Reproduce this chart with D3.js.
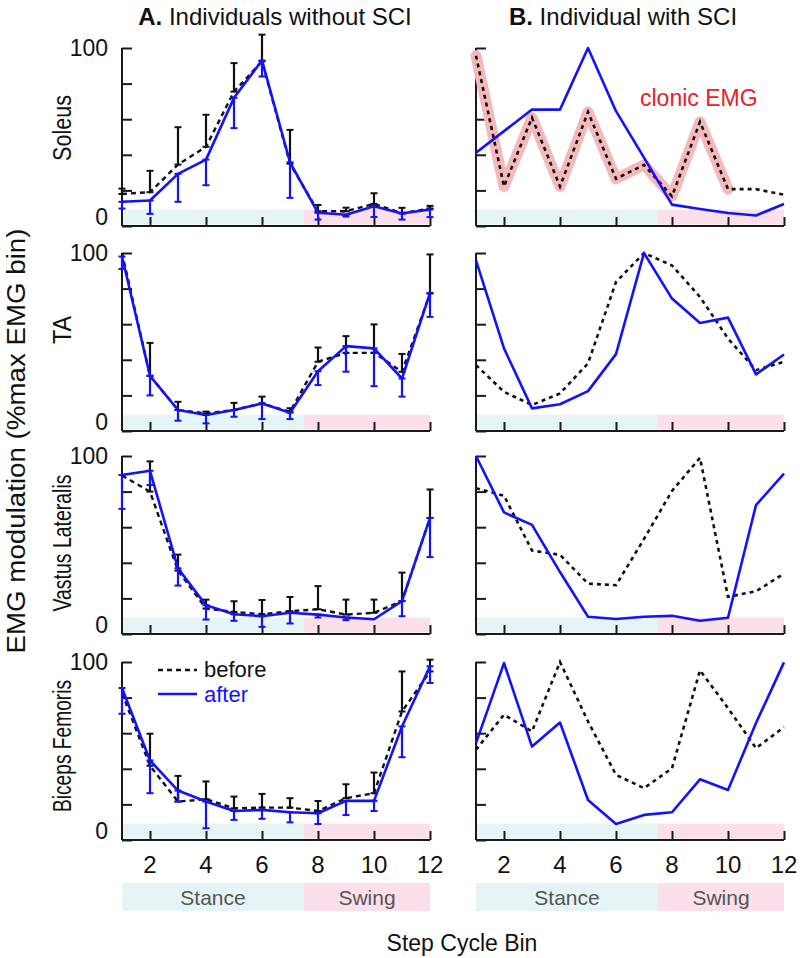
<!DOCTYPE html>
<html><head><meta charset="utf-8">
<script src="https://cdn.jsdelivr.net/npm/d3@7"></script>
<style>body{margin:0;background:#fff} svg{display:block} text{font-family:"Liberation Sans",Arial,Helvetica,sans-serif}</style>
</head><body><svg id="c" width="800" height="958"></svg>
<script>
// ---------- data ----------
const bins = [1,2,3,4,5,6,7,8,9,10,11,12];
const xTickValues = [2,4,6,8,10,12];
const yTickValues = [0,20,40,60,80,100];
const yTickLabels = ["0","100"];
const muscles = ["Soleus","TA","Vastus Lateralis","Biceps Femoris"];
const phaseNames = ["Stance","Swing"];
const phaseBounds = [1, 7.5, 12];
const titles = [["A.", " Individuals without SCI"], ["B.", " Individual with SCI"]];
const legendLabels = ["before","after"];
const clonicLabel = "clonic EMG";
const clonicBins = [1,2,3,4,5,6,7,8,9,10];

// A: individuals without SCI (mean, SD up for before, SD down for after)
const soleusA_before   = [18, 19, 34.5, 44.5, 75.5, 92.5, 35, 8.3, 8.3, 12.4, 7.2, 9.8];
const soleusA_beforeSD = [3, 12, 21, 18, 16, 15, 19, 3.5, 2, 6, 3, 1.5];
const soleusA_after    = [13.6, 14.3, 29.3, 37.3, 72, 93, 35.8, 7.4, 6.3, 11.1, 7, 9.3];
const soleusA_afterSD  = [3.8, 7.5, 15.7, 14.4, 17, 9, 20, 3.8, 1, 6, 3.4, 4.3];

const taA_before   = [100, 31, 11.8, 9.9, 11.8, 15.5, 10.8, 38.9, 43.9, 43.9, 33.3, 77.2];
const taA_beforeSD = [0, 18.5, 4.6, 1, 4, 3.8, 2, 8, 9.4, 16, 10, 22];
const taA_after    = [98, 31, 11.8, 9, 11.8, 15.5, 10.3, 33.6, 47.7, 46.4, 29.5, 77.6];
const taA_afterSD  = [7, 11, 6, 4.7, 3.8, 8.8, 3.6, 7.8, 14.4, 21.2, 10.2, 13.5];

const vlA_before   = [89, 80, 35.6, 14.3, 12.4, 11.1, 12.8, 13.9, 10.9, 11.9, 18.5, 65.2];
const vlA_beforeSD = [0, 17, 9, 5, 6, 8, 8, 13, 8.4, 7.4, 16, 16];
const vlA_after    = [89.3, 91.7, 36.9, 16.1, 11.1, 10, 11.9, 10.9, 9.3, 8.3, 18.5, 65.2];
const vlA_afterSD  = [19, 8, 9.7, 8, 3.7, 6, 6, 1.6, 1.5, 0, 8.5, 22];

const bfA_before   = [82.6, 41.7, 21.6, 22.9, 17.8, 18.2, 18.2, 16.3, 23.5, 26.3, 72.2, 94.7];
const bfA_beforeSD = [0, 18, 14.4, 10, 6.6, 7.7, 5.3, 5.6, 7.8, 11.6, 22.5, 6.6];
const bfA_after    = [85.4, 44.7, 27.8, 21.6, 16.3, 16.9, 15.6, 15, 22, 22, 63.8, 97.6];
const bfA_afterSD  = [14.5, 18.4, 6.2, 15, 5, 5, 5.7, 6, 8, 5.7, 17.3, 9.4];

// B: individual with SCI
const soleusB_before = [95.7, 22.2, 60.9, 22.2, 64.1, 26.5, 34.3, 16.7, 58.5, 20.7, 20.7, 17.6];
const soleusB_after  = [41.2, 53.3, 65.4, 65.4, 100, 64.5, 38.4, 12, 9.6, 7.3, 5.9, 12.4];
const taB_before = [37, 22, 14.6, 21.1, 38, 83.7, 100, 93, 75.3, 52, 34.2, 38.9];
const taB_after  = [95.9, 46.4, 12.7, 15, 22.4, 43.2, 100, 74.4, 60.7, 63.7, 31.8, 43];
const vlB_before = [81.9, 77.7, 46.9, 44.5, 28.3, 27.4, 53.4, 80.4, 99, 20.9, 24, 33.9];
const vlB_after  = [100, 68.3, 61.3, 34.8, 9.7, 8.4, 9.7, 10.2, 7.4, 9.1, 72.4, 90.1];
const bfB_before = [50.7, 70.4, 61, 100, 66.6, 36.6, 29.1, 40.3, 95.3, 74.1, 51.6, 63.4];
const bfB_after  = [54.4, 99.4, 52.5, 66, 22.5, 9, 14.1, 15.6, 34.1, 28.1, 65.7, 99.8];

const rowsA = [
  [soleusA_before, soleusA_beforeSD, soleusA_after, soleusA_afterSD],
  [taA_before, taA_beforeSD, taA_after, taA_afterSD],
  [vlA_before, vlA_beforeSD, vlA_after, vlA_afterSD],
  [bfA_before, bfA_beforeSD, bfA_after, bfA_afterSD]
];
const rowsB = [
  [soleusB_before, soleusB_after],
  [taB_before, taB_after],
  [vlB_before, vlB_after],
  [bfB_before, bfB_after]
];

// ---------- layout ----------
const colRanges = [[122, 430], [476, 784]];
const rowTops = [48, 253, 456, 662];
const rowH = 178;
const blue = "#1212ff";
const axisColor = "#1a1a1a";
const stanceColor = "#e5f4f5";
const swingColor = "#fbe0ec";
const phaseColors = [stanceColor, swingColor];

const svg = d3.select("#c");

const xScales = colRanges.map(r => d3.scaleLinear().domain([1, 12]).range(r));
const yScales = rowTops.map(t => d3.scaleLinear().domain([0, 100]).range([t + rowH, t]));

const line = (x, y) => d3.line().x((d, i) => x(bins[i])).y(d => y(d));

function errBars(g, x, y, mean, sd, dir, color) {
  const cap = 3.5;
  bins.forEach((b, i) => {
    if (!sd[i]) return;
    const y1 = y(mean[i]), y2 = y(mean[i] + dir * sd[i]);
    const cx = x(b);
    g.append("line").attr("x1", cx).attr("x2", cx).attr("y1", y1).attr("y2", y2)
      .attr("stroke", color).attr("stroke-width", 2.2);
    [y1, y2].forEach(yy => g.append("line").attr("x1", cx - cap).attr("x2", cx + cap)
      .attr("y1", yy).attr("y2", yy).attr("stroke", color).attr("stroke-width", 2));
  });
}

function drawFrame(g, x, y, showLabels, isBottom) {
  phaseNames.forEach((p, k) => {
    g.append("rect").attr("x", x(phaseBounds[k])).attr("width", x(phaseBounds[k + 1]) - x(phaseBounds[k]))
      .attr("y", y(9.2)).attr("height", y(0.8) - y(9.2)).attr("fill", phaseColors[k]);
  });
  const ya = d3.axisRight(y).tickValues(yTickValues).tickSize(10).tickFormat("");
  const gy = g.append("g").attr("transform", `translate(${x(1)},0)`).call(ya);
  gy.select(".domain").attr("d", `M0,${y(0)}V${y(100)}`);
  gy.selectAll("path,line").attr("stroke", axisColor).attr("stroke-width", 2);
  const xa = d3.axisTop(x).tickValues(xTickValues).tickSize(9).tickFormat("");
  const gx = g.append("g").attr("transform", `translate(0,${y(0)})`).call(xa);
  gx.select(".domain").attr("d", `M${x(1)},0H${x(12)}`);
  gx.selectAll("path,line").attr("stroke", axisColor).attr("stroke-width", 2);
  if (showLabels) {
    g.append("text").attr("x", 108).attr("y", y(100)).attr("text-anchor", "end")
      .attr("dominant-baseline", "central").attr("font-size", 23).attr("fill", "#111").text(yTickLabels[1]);
    g.append("text").attr("x", 108).attr("y", y(0) - 9).attr("text-anchor", "end")
      .attr("dominant-baseline", "central").attr("font-size", 23).attr("fill", "#111").text(yTickLabels[0]);
  }
  if (isBottom) {
    xTickValues.forEach(v => g.append("text").attr("x", x(v)).attr("y", 864)
      .attr("text-anchor", "middle").attr("dominant-baseline", "central")
      .attr("font-size", 24).attr("fill", "#111").text(v));
    phaseNames.forEach((p, k) => {
      g.append("rect").attr("x", x(phaseBounds[k])).attr("width", x(phaseBounds[k + 1]) - x(phaseBounds[k]))
        .attr("y", 883).attr("height", 28).attr("fill", phaseColors[k]);
      g.append("text").attr("x", (x(phaseBounds[k]) + x(phaseBounds[k + 1])) / 2).attr("y", 897)
        .attr("text-anchor", "middle").attr("dominant-baseline", "central")
        .attr("font-size", 21).attr("fill", "#555").text(p);
    });
  }
}

// ---------- panels ----------
rowTops.forEach((t, r) => {
  const y = yScales[r];
  const bottom = r === rowTops.length - 1;
  {
    const x = xScales[0];
    const g = svg.append("g");
    drawFrame(g, x, y, true, bottom);
    const [bef, befSD, aft, aftSD] = rowsA[r];
    g.append("path").attr("d", line(x, y)(bef)).attr("fill", "none")
      .attr("stroke", "#111").attr("stroke-width", 2.4).attr("stroke-dasharray", "5,4");
    errBars(g, x, y, bef, befSD, 1, "#111");
    g.append("path").attr("d", line(x, y)(aft)).attr("fill", "none")
      .attr("stroke", blue).attr("stroke-width", 2.6).attr("stroke-linejoin", "round");
    errBars(g, x, y, aft, aftSD, -1, blue);
  }
  {
    const x = xScales[1];
    const g = svg.append("g");
    drawFrame(g, x, y, false, bottom);
    const [bef, aft] = rowsB[r];
    if (r === 0) {
      const hl = d3.line().x(d => x(d)).y(d => y(bef[d - 1]));
      g.append("path").attr("d", hl(clonicBins)).attr("fill", "none")
        .attr("stroke", "#f5b9bc").attr("stroke-width", 11)
        .attr("stroke-linejoin", "round").attr("stroke-linecap", "round");
      g.append("text").attr("x", 640).attr("y", 106).attr("font-size", 23)
        .attr("fill", "#e8202a").text(clonicLabel);
    }
    g.append("path").attr("d", line(x, y)(bef)).attr("fill", "none")
      .attr("stroke", "#111").attr("stroke-width", 2.6).attr("stroke-dasharray", "4,4");
    g.append("path").attr("d", line(x, y)(aft)).attr("fill", "none")
      .attr("stroke", blue).attr("stroke-width", 2.6).attr("stroke-linejoin", "round");
  }
});

// ---------- titles & labels ----------
const tA = svg.append("text").attr("x", 275).attr("y", 25).attr("text-anchor", "middle").attr("font-size", 24).attr("fill", "#111");
tA.append("tspan").attr("font-weight", "bold").text(titles[0][0]);
tA.append("tspan").text(titles[0][1]);
const tB = svg.append("text").attr("x", 623).attr("y", 25).attr("text-anchor", "middle").attr("font-size", 24).attr("fill", "#111");
tB.append("tspan").attr("font-weight", "bold").text(titles[1][0]);
tB.append("tspan").text(titles[1][1]);

const muscleCenters = [128, 330, 543, 746];
const muscleLengths = [66, 28, 137, 132];
muscles.forEach((m, i) => {
  svg.append("text").attr("transform", `translate(62,${muscleCenters[i]}) rotate(-90)`)
    .attr("text-anchor", "middle").attr("dominant-baseline", "central")
    .attr("font-size", 26).attr("fill", "#111")
    .attr("textLength", muscleLengths[i]).attr("lengthAdjust", "spacingAndGlyphs").text(m);
});
svg.append("text").attr("transform", `translate(16,441) rotate(-90)`)
  .attr("text-anchor", "middle").attr("dominant-baseline", "central")
  .attr("font-size", 25).attr("fill", "#111")
  .attr("textLength", 425).attr("lengthAdjust", "spacingAndGlyphs").text("EMG modulation (%max EMG bin)");
svg.append("text").attr("x", 462).attr("y", 943).attr("text-anchor", "middle")
  .attr("dominant-baseline", "central").attr("font-size", 23).attr("fill", "#111").text("Step Cycle Bin");

// legend
const lg = svg.append("g");
lg.append("line").attr("x1", 158).attr("x2", 197).attr("y1", 670).attr("y2", 670)
  .attr("stroke", "#111").attr("stroke-width", 2.4).attr("stroke-dasharray", "5,4");
lg.append("text").attr("x", 204).attr("y", 669).attr("dominant-baseline", "central")
  .attr("font-size", 22).attr("fill", "#111").text(legendLabels[0]);
lg.append("line").attr("x1", 158).attr("x2", 197).attr("y1", 694).attr("y2", 694)
  .attr("stroke", blue).attr("stroke-width", 2.6);
lg.append("text").attr("x", 204).attr("y", 694).attr("dominant-baseline", "central")
  .attr("font-size", 22).attr("fill", blue).text(legendLabels[1]);
</script></body></html>
